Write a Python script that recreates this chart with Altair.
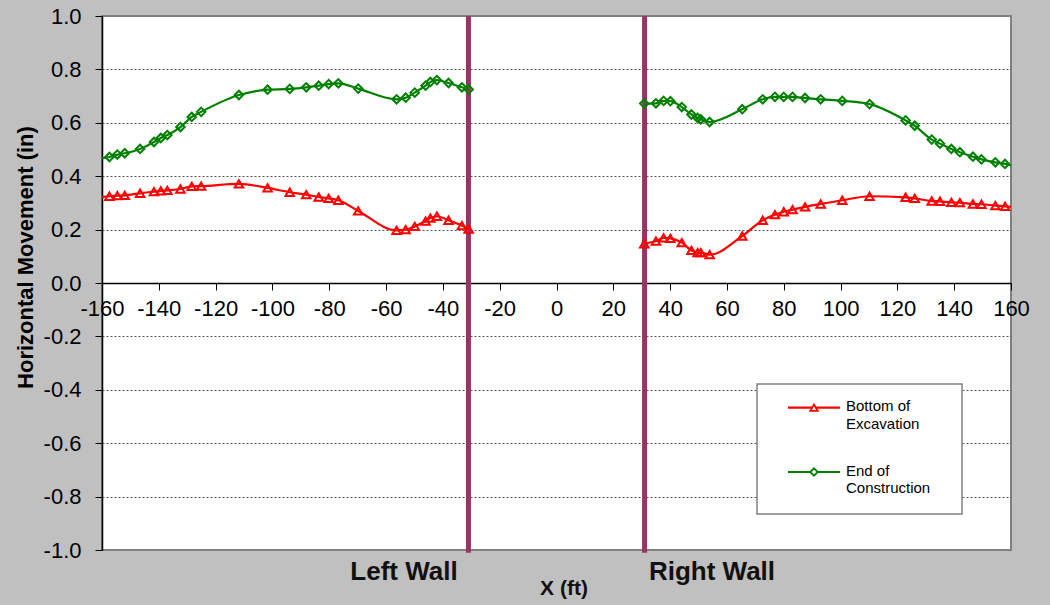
import altair as alt
import pandas as pd

# ---------------- data ----------------
series_names = ["Bottom of Excavation", "End of Construction"]

left_x = [-163, -157.4, -154.6, -152.0, -146.6, -141.7, -139.3, -137.0, -132.4, -128.4,
          -125.1, -111.8, -101.7, -93.9, -88.1, -83.7, -80.2, -76.8, -69.8, -56.3,
          -53.1, -49.9, -46.1, -44.4, -42.1, -38.0, -33.3, -30.9]
left_bottom = [0.320, 0.325, 0.327, 0.328, 0.336, 0.342, 0.345, 0.347, 0.352, 0.362,
               0.363, 0.371, 0.356, 0.340, 0.331, 0.322, 0.317, 0.310, 0.270, 0.197,
               0.200, 0.212, 0.232, 0.243, 0.250, 0.235, 0.215, 0.202]
left_end = [0.464, 0.472, 0.481, 0.486, 0.502, 0.528, 0.543, 0.554, 0.584, 0.622,
            0.641, 0.704, 0.724, 0.727, 0.733, 0.739, 0.745, 0.748, 0.728, 0.688,
            0.694, 0.713, 0.739, 0.753, 0.760, 0.749, 0.733, 0.725]

right_x = [30.9, 35.0, 37.7, 40.1, 44.1, 47.5, 49.7, 50.8, 53.9, 65.4,
           72.6, 76.9, 80.0, 83.1, 87.5, 93.0, 100.6, 110.2, 122.9, 126.1,
           132.1, 135.0, 139.0, 142.0, 146.6, 149.6, 154.5, 157.9, 163]
right_bottom = [0.147, 0.157, 0.169, 0.167, 0.151, 0.122, 0.114, 0.114, 0.106, 0.176,
                0.235, 0.256, 0.267, 0.275, 0.285, 0.296, 0.310, 0.325, 0.321, 0.317,
                0.307, 0.306, 0.302, 0.301, 0.296, 0.295, 0.290, 0.287, 0.282]
right_end = [0.672, 0.673, 0.682, 0.681, 0.659, 0.631, 0.618, 0.613, 0.603, 0.651,
             0.688, 0.697, 0.697, 0.697, 0.693, 0.688, 0.682, 0.670, 0.609, 0.589,
             0.537, 0.522, 0.502, 0.490, 0.473, 0.463, 0.452, 0.446, 0.432]

wall_x = [-31, 31]
x_ticks = list(range(-160, 161, 20))
y_ticks = [-1.0, -0.8, -0.6, -0.4, -0.2, 0.0, 0.2, 0.4, 0.6, 0.8, 1.0]
legend_labels = ["Bottom of\nExcavation", "End of\nConstruction"]

# ---------------- build tables ----------------
rows = []
for side, xs, bot, end in [("left", left_x, left_bottom, left_end),
                           ("right", right_x, right_bottom, right_end)]:
    for x, b, e in zip(xs, bot, end):
        rows.append({"x": x, "y": b, "series": series_names[0], "side": side})
        rows.append({"x": x, "y": e, "series": series_names[1], "side": side})
df = pd.DataFrame(rows)
walls = pd.DataFrame({"x": wall_x, "y": [1.0] * len(wall_x), "y2": [-1.01] * len(wall_x)})
leg_df = pd.DataFrame({"series": series_names, "label": legend_labels,
                       "row": list(range(len(series_names)))})

FONT = "Liberation Sans"
colors = ["#FF0000", "#008000"]
MINUS_FIX = "replace(datum.label, '\u2212', '-')"

xscale = alt.Scale(domain=[-160, 160], nice=False, zero=False)
yscale = alt.Scale(domain=[-1, 1], nice=False)
color_scale = alt.Scale(domain=series_names, range=colors)
shape_scale = alt.Scale(domain=series_names, range=["triangle-up", "diamond"])

xaxis = alt.Axis(values=x_ticks, offset=-267, labelFontSize=22, labelFont=FONT,
                 labelColor="black", labelPadding=8, labelFlush=False, labelOverlap=False,
                 labelExpr=MINUS_FIX,
                 tickSize=7, tickColor="black", domainColor="black", domainWidth=1.5,
                 grid=False, title=None)
yaxis = alt.Axis(values=y_ticks, format=".1f", labelFontSize=22, labelFont=FONT,
                 labelColor="black", labelPadding=14, tickSize=7, tickColor="black",
                 labelExpr=MINUS_FIX,
                 domainColor="black", domainWidth=1.5, grid=True, gridDash=[2, 2],
                 gridColor="#555555", gridWidth=1,
                 gridOpacity={"condition": {"test": "abs(datum.value) > 0.95", "value": 0}, "value": 1},
                 title="Horizontal Movement (in)", titleFont=FONT, titleFontSize=22,
                 titleFontWeight="bold", titleColor="black", titleX=-77, titleY=241,
                 titleAngle=270, titleAlign="center", titleBaseline="middle")

X = alt.X("x:Q", scale=xscale, axis=xaxis)
Y = alt.Y("y:Q", scale=yscale, axis=yaxis)

wall_layer = alt.Chart(walls).mark_rule(color="#993366", strokeWidth=5).encode(
    x=X, y=Y, y2="y2:Q")

lines = alt.Chart(df).mark_line(interpolate="monotone", strokeWidth=2.2, clip=True).encode(
    x=X, y=Y,
    color=alt.Color("series:N", scale=color_scale, legend=None),
    detail="side:N",
)

points = alt.Chart(df).mark_point(filled=False, size=72, strokeWidth=2, clip=True, opacity=1).encode(
    x=X, y=Y,
    color=alt.Color("series:N", scale=color_scale, legend=None),
    shape=alt.Shape("series:N", scale=shape_scale, legend=None),
)

# ---------------- legend (drawn by hand) ----------------
legend_box = alt.Chart(pd.DataFrame({"k": [0]})).mark_rect(
    fill="white", stroke="#808080", strokeWidth=1.5
).encode(x=alt.value(655), x2=alt.value(860), y=alt.value(368), y2=alt.value(498))

leg_base = alt.Chart(leg_df).transform_calculate(py="391.7 + datum.row * 64.3")
leg_lines = leg_base.mark_rule(strokeWidth=2.2).encode(
    x=alt.value(686), x2=alt.value(738), y=alt.Y("py:Q", scale=None),
    color=alt.Color("series:N", scale=color_scale, legend=None))
leg_pts = leg_base.mark_point(filled=False, size=56, strokeWidth=1.8, opacity=1, fill="white").encode(
    x=alt.value(712), y=alt.Y("py:Q", scale=None),
    color=alt.Color("series:N", scale=color_scale, legend=None),
    shape=alt.Shape("series:N", scale=shape_scale, legend=None))
leg_text = leg_base.transform_calculate(ty="datum.py - 8.5").mark_text(
    font=FONT, fontSize=15, color="black", align="left", baseline="top",
    lineBreak="\n", lineHeight=17.5).encode(
    x=alt.value(744), y=alt.Y("ty:Q", scale=None), text="label:N")

# ---------------- free text ----------------
text_df = pd.DataFrame({"t": [0]})
left_lbl = alt.Chart(text_df).mark_text(text="Left Wall", font=FONT, fontSize=26, fontWeight="bold",
                                        color="#111111", baseline="middle", align="center").encode(
    x=alt.value(302), y=alt.value(556))
right_lbl = alt.Chart(text_df).mark_text(text="Right Wall", font=FONT, fontSize=26, fontWeight="bold",
                                         color="#111111", baseline="middle", align="center").encode(
    x=alt.value(610), y=alt.value(556))
x_title = alt.Chart(text_df).mark_text(text="X (ft)", font=FONT, fontSize=21, fontWeight="bold",
                                       color="#111111", baseline="middle", align="center").encode(
    x=alt.value(462), y=alt.value(573))

chart = alt.layer(wall_layer, legend_box, lines, points, leg_lines, leg_pts, leg_text,
                  left_lbl, right_lbl, x_title).properties(
    width=909, height=534,
    padding={"left": 102, "top": 16, "right": 39, "bottom": 55},
    autosize=alt.AutoSizeParams(type="none"),
    background="#C0C0C0",
).configure_view(fill="white", stroke="#808080", strokeWidth=2)

chart.save("out.html", embed_options={"renderer": "svg", "actions": False})
